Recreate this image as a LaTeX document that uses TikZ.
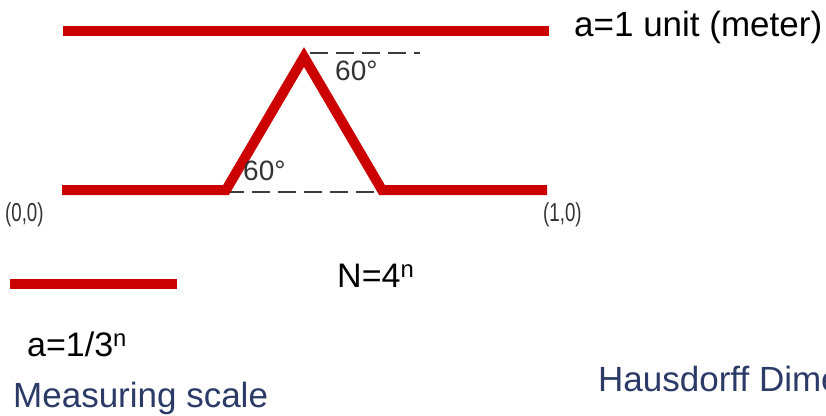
\documentclass[tikz,border=0pt]{standalone}
\usepackage{fontspec}
\setmainfont{Liberation Sans}
\usetikzlibrary{positioning}
\definecolor{kochred}{HTML}{CC0000}
\definecolor{dashgray}{HTML}{3C3C3C}
\definecolor{labelgray}{HTML}{333333}
\definecolor{slideblue}{HTML}{2B3A67}
\begin{document}
\begin{tikzpicture}[x=1pt,y=-1pt,
 seg/.style={line width=10pt,kochred,line join=miter},
 guide/.style={line width=2.4pt,dashgray,dash pattern=on 18pt off 8pt},
 lbl/.style={anchor=base west,inner sep=0pt,font=\fontsize{34}{40}\selectfont},
 ang/.style={anchor=base west,inner sep=0pt,labelgray,font=\fontsize{28}{32}\selectfont},
 pt/.style={ang,font=\fontsize{26}{30}\selectfont,xscale=0.72,transform shape},
 title/.style={lbl,slideblue,font=\fontsize{35}{40}\selectfont}]
\clip (0,0) rectangle (826,415);
% unit segment
\coordinate (top0) at (63,31); \coordinate (top1) at (549,31);
\draw[seg] (top0) -- (top1);
\node[lbl,font=\fontsize{35}{40}\selectfont] (unit) at (574,36) {a=1 unit (meter)};
% first Koch step
\coordinate (b0) at (226,192); \coordinate (b1) at (383,192);
\coordinate (t0) at (310,53); \coordinate (t1) at (420,53);
\draw[guide] (b0) -- (b1);
\draw[guide] (t0) -- (t1);
\coordinate (p0) at (62,190);
\coordinate (p1) at (226,190);
\coordinate (p2) at (304,57);
\coordinate (p3) at (382,190);
\coordinate (p4) at (547,190);
\draw[seg] (p0) -- (p1) -- (p2) -- (p3) -- (p4);
\node[ang] (alow) at (243,180) {60°};
\node[ang] (ahigh) at (335,80) {60°};
\node[pt] (orig) at (5,221) {(0,0)};
\node[pt] (one) at (543,221) {(1,0)};
% measuring scale
\coordinate (scale0) at (10,284); \coordinate (scale1) at (177,284);
\draw[seg] (scale0) -- (scale1);
\node[lbl] (count) at (337,287) {N=4\textsuperscript{n}};
\node[lbl] (size) at (27,356) {a=1/3\textsuperscript{n}};
\node[title] (meas) at (13,407) {Measuring scale};
\node[title] (haus) at (598,391) {Hausdorff Dimension};
\end{tikzpicture}
\end{document}
